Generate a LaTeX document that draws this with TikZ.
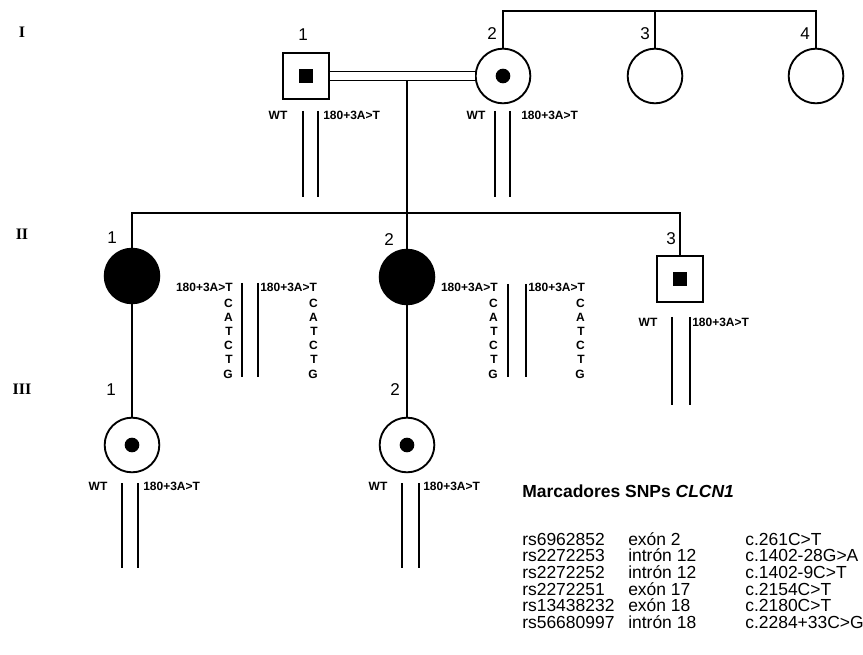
\documentclass[tikz,border=0pt]{standalone}
\usepackage{fontspec}
\setmainfont{Liberation Sans}
\newfontfamily\genfont{Liberation Serif}
\begin{document}
\begin{tikzpicture}[x=0.75pt, y=-0.75pt,
    linea/.style={line width=1.4pt},
    varon/.style={draw, line width=1.4pt, minimum size=34.5pt, inner sep=0pt},
    mujer/.style={circle, draw, line width=1.4pt, minimum size=41pt, inner sep=0pt},
    afectada/.style={mujer, fill=black},
    portador/.style={fill=black, minimum size=11pt, inner sep=0pt},
    portadora/.style={circle, fill=black, minimum size=11pt, inner sep=0pt},
    num/.style={font=\fontsize{12.8}{14}\selectfont, inner sep=0pt},
    gen/.style={font=\genfont\bfseries\fontsize{12}{14}\selectfont, inner sep=0pt},
    alelo/.style={font=\bfseries\fontsize{9}{10}\selectfont, inner sep=0pt},
    tabla/.style={font=\fontsize{13.1}{15}\selectfont, inner sep=0pt, anchor=base west}]

    \useasboundingbox (0,0) rectangle (863,655);

    % Generaciones
    \node[gen] (gI) at (22,32) {I};
    \node[gen] (gII) at (22,234) {II};
    \node[gen] (gIII) at (22,389) {III};

    % Generacion I
    \node[varon] (i1) at (306,76) {};
    \node[portador] (i1c) at (i1) {};
    \node[mujer] (i2) at (503,76) {};
    \node[portadora] (i2c) at (i2) {};
    \node[mujer] (i3) at (655,76) {};
    \node[mujer] (i4) at (816,76) {};
    \node[num] (ni1) at (303,35) {1};
    \node[num] (ni2) at (492,34) {2};
    \node[num] (ni3) at (645,34) {3};
    \node[num] (ni4) at (805,34) {4};

    % Consanguinidad y hermanas
    \draw[linea, double, double distance=5.3pt] (i1) -- (i2);
    \coordinate (hI) at (503,11);
    \draw[linea] (i2) -- (hI) -| (i4);
    \draw[linea] (i3) -- (i3 |- hI);

    % Alelos I-1 e I-2
    \draw[linea] (303,111) -- (303,197);
    \draw[linea] (318,111) -- (318,197);
    \node[alelo] (wi1) at (278,115) {WT};
    \node[alelo, anchor=west] (mi1) at (323,115) {180+3A>T};
    \draw[linea] (495,111) -- (495,197);
    \draw[linea] (510,111) -- (510,197);
    \node[alelo] (wi2) at (476,115) {WT};
    \node[alelo, anchor=west] (mi2) at (521,115) {180+3A>T};

    % Generacion II
    \node[afectada] (ii1) at (132,276) {};
    \node[afectada] (ii2) at (407,277) {};
    \node[varon] (ii3) at (680,279) {};
    \node[portador] (ii3c) at (ii3) {};
    \node[num] (nii1) at (112,238) {1};
    \node[num] (nii2) at (389,240) {2};
    \node[num] (nii3) at (671,239) {3};

    \coordinate (desc) at (407,81);
    \coordinate (hII) at (407,213);
    \draw[linea] (desc) -- (ii2);
    \draw[linea] (ii1) |- (hII) -| (ii3);

    % Haplotipos II-1 y II-2
    \draw[linea] (242,283) -- (242,377);
    \draw[linea] (258,283) -- (258,377);
    \node[alelo, anchor=east] (ma1) at (233,287.5) {180+3A>T};
    \node[alelo, anchor=west] (mb1) at (260,287.5) {180+3A>T};
    \foreach \l [count=\k from 0] in {C,A,T,C,T,G} {
        \node[alelo, anchor=east] (a1\k) at (233,{303+14.2*\k}) {\l};
        \node[alelo, anchor=east] (b1\k) at (318,{303+14.2*\k}) {\l};
    }
    \draw[linea] (508,284) -- (508,377);
    \draw[linea] (526,284) -- (526,377);
    \node[alelo, anchor=east] (ma2) at (498,287.5) {180+3A>T};
    \node[alelo, anchor=west] (mb2) at (528,287.5) {180+3A>T};
    \foreach \l [count=\k from 0] in {C,A,T,C,T,G} {
        \node[alelo, anchor=east] (a2\k) at (498,{303+14.2*\k}) {\l};
        \node[alelo, anchor=east] (b2\k) at (585,{303+14.2*\k}) {\l};
    }

    % Alelos II-3
    \draw[linea] (672,317) -- (672,405);
    \draw[linea] (690,317) -- (690,405);
    \node[alelo] (wii3) at (648,322) {WT};
    \node[alelo, anchor=west] (mii3) at (692,322) {180+3A>T};

    % Generacion III
    \node[mujer] (iii1) at (132,445) {};
    \node[portadora] (iii1c) at (iii1) {};
    \node[mujer] (iii2) at (407,445) {};
    \node[portadora] (iii2c) at (iii2) {};
    \node[num] (niii1) at (111,390) {1};
    \node[num] (niii2) at (395,390) {2};
    \draw[linea] (ii1) -- (iii1);
    \draw[linea] (ii2) -- (iii2);

    % Alelos III-1 y III-2
    \draw[linea] (122,483) -- (122,568);
    \draw[linea] (138,483) -- (138,568);
    \node[alelo] (wiii1) at (98,486) {WT};
    \node[alelo, anchor=west] (miii1) at (143,486) {180+3A>T};
    \draw[linea] (402,483) -- (402,568);
    \draw[linea] (419,483) -- (419,568);
    \node[alelo] (wiii2) at (378,486) {WT};
    \node[alelo, anchor=west] (miii2) at (423,486) {180+3A>T};

    % Marcadores
    \node[tabla] (tit) at (522,497) {\bfseries Marcadores SNPs \itshape CLCN1};
    \foreach \rs/\reg/\var [count=\k from 0] in {rs6962852/exón 2/c.261C>T,
        rs2272253/intrón 12/c.1402-28G>A, rs2272252/intrón 12/c.1402-9C>T,
        rs2272251/exón 17/c.2154C>T, rs13438232/exón 18/c.2180C>T,
        rs56680997/intrón 18/c.2284+33C>G} {
        \node[tabla] (rs\k) at (522,{545+16.7*\k}) {\rs};
        \node[tabla] (reg\k) at (628,{545+16.7*\k}) {\reg};
        \node[tabla] (var\k) at (745,{545+16.7*\k}) {\var};
    }

\end{tikzpicture}
\end{document}
